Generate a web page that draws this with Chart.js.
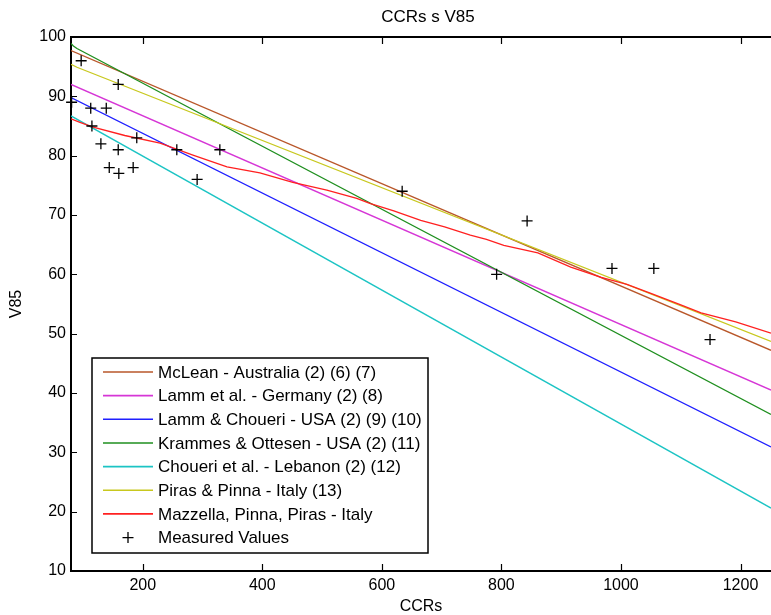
<!DOCTYPE html>
<html><head><meta charset="utf-8">
<script src="https://cdn.jsdelivr.net/npm/chart.js@4.4.1/dist/chart.umd.min.js"></script>
<style>html,body{margin:0;padding:0;background:#fff;overflow:hidden}</style>
</head><body>
<canvas id="c" width="771" height="615"></canvas>
<script>
// ---------------- data ----------------
const chartTitle = 'CCRs s V85';
const xTitle = 'CCRs';
const yTitle = 'V85';
const xTicks = [200, 400, 600, 800, 1000, 1200];
const yTicks = [10, 20, 30, 40, 50, 60, 70, 80, 90, 100];
const xRange = [80, 1251];
const yRange = [10, 100];

const seriesNames = [
  'McLean - Australia (2) (6) (7)',
  'Lamm et al. - Germany (2) (8)',
  'Lamm & Choueri - USA (2) (9) (10)',
  'Krammes & Ottesen - USA (2) (11)',
  'Choueri et al. - Lebanon (2) (12)',
  'Piras & Pinna - Italy (13)',
  'Mazzella, Pinna, Piras - Italy',
  'Measured Values'
];
const seriesColors = ['#b9572a', '#d636d6', '#1f1fff', '#1f8f1f', '#1cc4c4', '#c8c81e', '#ff2020', '#000000'];

const mcleanX = [80, 1251];
const mcleanY = [97.7, 47.2];
const lammX = [80, 1251];
const lammY = [92.0, 40.5];
const lammChoueriX = [80, 1251];
const lammChoueriY = [89.8, 30.9];
const krammesX = [80, 84, 90, 1251];
const krammesY = [98.9, 98.5, 98.05, 36.4];
const choueriX = [80, 1251];
const choueriY = [86.7, 20.6];
const pirasX = [80, 90, 1251];
const pirasY = [95.4, 94.9, 48.7];
const mazzellaX = [80, 95, 117, 170, 229, 284, 341, 396, 451, 508, 558, 581, 620, 665, 705, 748, 775, 804, 861, 916, 967, 1010, 1050, 1099, 1134, 1192, 1251];
const mazzellaY = [86.2, 85.6, 84.8, 83.4, 82.1, 80.1, 78.1, 77.1, 75.5, 74.2, 72.8, 71.9, 70.7, 69.1, 68.0, 66.6, 65.9, 64.9, 63.6, 61.2, 59.5, 58.3, 56.8, 54.9, 53.5, 52.0, 50.1];

const measuredX = [97, 81, 113, 139, 159, 115, 130, 159, 144, 160, 184, 190, 257, 291, 329, 634, 843, 792, 985, 1055, 1149];
const measuredY = [96, 89, 88, 88, 92, 85, 82, 81, 78, 77, 78, 83, 81, 76, 81, 74, 69, 60, 61, 61, 49];

// ---------------- build ----------------
const FONT = "'Liberation Sans', Arial, Helvetica, sans-serif";
Chart.defaults.color = '#000';
Chart.defaults.font.family = FONT;

function pts(xs, ys) { return xs.map((x, i) => ({x: x, y: ys[i]})); }
const lineSets = [
  [mcleanX, mcleanY], [lammX, lammY], [lammChoueriX, lammChoueriY], [krammesX, krammesY],
  [choueriX, choueriY], [pirasX, pirasY], [mazzellaX, mazzellaY]
];
const datasets = lineSets.map((s, i) => ({
  label: seriesNames[i],
  data: pts(s[0], s[1]),
  showLine: true,
  borderColor: seriesColors[i],
  backgroundColor: seriesColors[i],
  borderWidth: 1.3,
  pointRadius: 0,
  tension: 0,
  order: 7 - i
}));
datasets.push({
  label: seriesNames[7],
  data: pts(measuredX, measuredY),
  showLine: false,
  pointStyle: 'cross',
  pointRadius: 5.5,
  pointBorderWidth: 1.3,
  borderColor: '#000',
  backgroundColor: '#000',
  clip: false,
  order: 0
});

const framePlugin = {
  id: 'frame',
  beforeDatasetsDraw(chart) {
    const {ctx, chartArea: a, scales: {x, y}} = chart;
    ctx.save();
    ctx.strokeStyle = '#000';
    ctx.lineWidth = 2;
    ctx.beginPath();
    ctx.moveTo(a.right + 2, a.top); ctx.lineTo(a.left, a.top);
    ctx.lineTo(a.left, a.bottom); ctx.lineTo(a.right + 2, a.bottom);
    ctx.stroke();
    ctx.lineWidth = 1.2;
    ctx.beginPath();
    xTicks.forEach(v => {
      const px = Math.round(x.getPixelForValue(v)) + 0.5;
      ctx.moveTo(px, a.bottom); ctx.lineTo(px, a.bottom - 7);
      ctx.moveTo(px, a.top); ctx.lineTo(px, a.top + 7);
    });
    yTicks.forEach(v => {
      const py = Math.round(y.getPixelForValue(v)) + 0.5;
      ctx.moveTo(a.left, py); ctx.lineTo(a.left + 6, py);
    });
    ctx.stroke();
    ctx.restore();
  }
};

const legendPlugin = {
  id: 'boxLegend',
  afterDraw(chart) {
    const ctx = chart.ctx;
    const box = {l: 92, t: 358, r: 428, b: 553};
    const rowY0 = 372, rowStep = 23.65;
    ctx.save();
    ctx.fillStyle = '#fff';
    ctx.fillRect(box.l, box.t, box.r - box.l, box.b - box.t);
    ctx.strokeStyle = '#000';
    ctx.lineWidth = 1.5;
    ctx.strokeRect(box.l, box.t, box.r - box.l, box.b - box.t);
    ctx.font = '17px ' + FONT;
    ctx.textBaseline = 'middle';
    ctx.textAlign = 'left';
    chart.data.datasets.forEach((ds, i) => {
      const yy = rowY0 + i * rowStep;
      ctx.strokeStyle = ds.borderColor;
      if (ds.showLine) {
        ctx.lineWidth = 1.6;
        ctx.beginPath(); ctx.moveTo(103, yy); ctx.lineTo(153, yy); ctx.stroke();
      } else {
        ctx.lineWidth = 1.3;
        ctx.beginPath();
        ctx.moveTo(122.5, yy); ctx.lineTo(133.5, yy);
        ctx.moveTo(128, yy - 5.5); ctx.lineTo(128, yy + 5.5);
        ctx.stroke();
      }
      ctx.fillStyle = '#000';
      ctx.fillText(ds.label, 158, yy + 1);
    });
    // plot title
    ctx.font = '17px ' + FONT;
    ctx.textAlign = 'center';
    ctx.fillText(chartTitle, 428, 17);
    ctx.restore();
  }
};

new Chart(document.getElementById('c'), {
  type: 'scatter',
  data: {datasets: datasets},
  options: {
    responsive: false,
    animation: false,
    devicePixelRatio: 1,
    layout: {autoPadding: false, padding: {top: 37, right: 0, left: 0, bottom: 0}},
    plugins: {legend: {display: false}, title: {display: false}, tooltip: {enabled: false}},
    scales: {
      x: {
        type: 'linear', min: xRange[0], max: xRange[1],
        afterBuildTicks: s => { s.ticks = xTicks.map(v => ({value: v})); },
        afterFit: s => { s.height = 44; s.paddingLeft = 0; s.paddingRight = 0; },
        grid: {display: false, drawTicks: false},
        border: {display: false},
        ticks: {font: {size: 16}, padding: 5, maxRotation: 0, autoSkip: false, callback: v => String(v)},
        title: {display: true, text: xTitle, font: {size: 16, lineHeight: 1}, padding: {top: 0, bottom: 0}}
      },
      y: {
        type: 'linear', min: yRange[0], max: yRange[1],
        afterBuildTicks: s => { s.ticks = yTicks.map(v => ({value: v})); },
        afterFit: s => { s.width = 71; s.paddingTop = 0; s.paddingBottom = 0; },
        grid: {display: false, drawTicks: false},
        border: {display: false},
        ticks: {font: {size: 16}, padding: 5, autoSkip: false, callback: v => String(v)},
        title: {display: true, text: yTitle, font: {size: 16, lineHeight: 1}, padding: {top: 9, bottom: 0}}
      }
    }
  },
  plugins: [framePlugin, legendPlugin]
});
</script>
</body></html>
